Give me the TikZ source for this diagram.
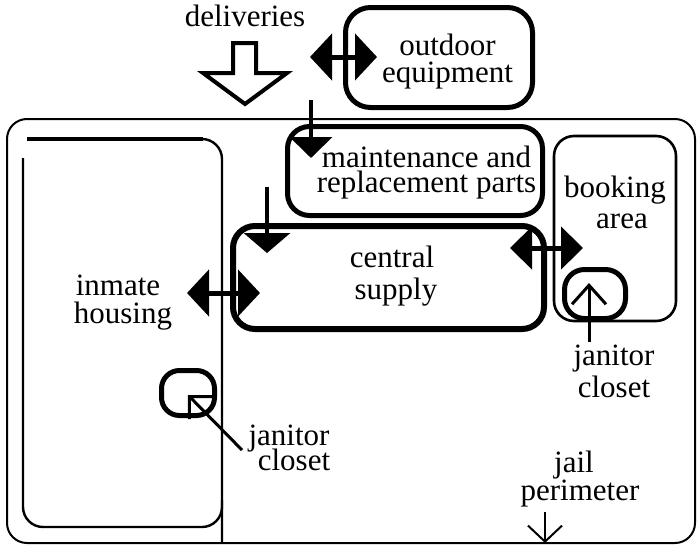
\documentclass[tikz,border=0pt]{standalone}
\usepackage{fontspec}
\setmainfont{Liberation Serif}
\usetikzlibrary{arrows.meta}
\newcommand\twolines[4]{\vtop{\baselineskip=#1\lineskiplimit=-\maxdimen\halign{\hfil##\hfil\cr #2\cr\kern#3 #4\cr}}}
\tikzset{
  lbl/.style={anchor=base, inner sep=0pt, font=\fontsize{15.5}{15.5}\selectfont},
  thickbox/.style={line width=2.5pt, rounded corners=11pt},
  thinbox/.style={line width=1.2pt, rounded corners=10pt},
  dblarrow/.style={line width=2.5pt, {Triangle[length=11pt,width=23pt]}-{Triangle[length=11pt,width=23pt]}},
  downarrow/.style={line width=2pt, -{Triangle[length=10.5pt,width=21pt]}},
  openarrow/.style={line width=1.5pt, -{Straight Barb[length=8pt,width=16pt]}},
}
\begin{document}
\begin{tikzpicture}[x=0.5pt,y=-0.5pt]
\useasboundingbox (0,0) rectangle (700,546);
% perimeter
\draw[line width=1pt, rounded corners=10pt] (7,119) rectangle (695,543);
% inmate housing
\draw[line width=2pt] (27,139) -- (203,139);
\draw[line width=1.2pt, rounded corners=10pt] (200,139) -- (222,139) -- (222,543);
\draw[line width=1.2pt, rounded corners=10pt] (23,158) -- (23,527) -- (222,527) -- (222,500);
% boxes
\draw[thickbox, rounded corners=12.5pt] (345.5,7.5) rectangle (532.5,107.5);
\draw[thickbox] (287.5,126.5) rectangle (542.5,215.5);
\draw[thickbox, line width=3pt] (233,226) rectangle (544,329);
\draw[thinbox, line width=1.3pt] (554,136) rectangle (676,321);
\draw[thickbox, rounded corners=10pt] (564.5,269.5) rectangle (625.5,318.5);
\draw[thickbox, rounded corners=9pt] (161.5,370.5) rectangle (214.5,415.5);
% deliveries hollow arrow
\draw[line width=2pt, line join=miter] (233,43) -- (256,43) -- (256,73) -- (287,73) -- (245,104) -- (203,73) -- (233,73) -- cycle;
% coordinates for connectors
\coordinate (oeL) at (310,57);
\coordinate (oeR) at (377,57);
\coordinate (mpT) at (311,100);
\coordinate (mpB) at (311,158);
\coordinate (csT) at (267,187);
\coordinate (csB) at (267,253);
\coordinate (ihL) at (187,293);
\coordinate (ihR) at (260,293);
\coordinate (baL) at (510,248);
\coordinate (baR) at (583,248);
\coordinate (jc1S) at (242,450);
\coordinate (jc1T) at (188,395);
\coordinate (jc2S) at (589,342);
\coordinate (jc2T) at (589,283);
\coordinate (jpS) at (545,512);
\coordinate (jpT) at (545,543);
% arrows
\draw[dblarrow] (oeL) -- (oeR);
\draw[downarrow] (mpT) -- (mpB);
\draw[downarrow, -{Triangle[length=10pt,width=23pt]}] (csT) -- (csB);
\draw[dblarrow] (ihL) -- (ihR);
\draw[dblarrow, {Triangle[length=11pt,width=21pt]}-{Triangle[length=11pt,width=21pt]}] (baL) -- (baR);
\draw[openarrow] (jc1S) -- (jc1T);
\draw[openarrow, -{Straight Barb[length=9.5pt,width=17pt]}] (jc2S) -- (jc2T);
\draw[openarrow, line width=1pt, -{Straight Barb[length=8pt,width=17pt]}] (jpS) -- (jpT);
% labels
\node[lbl] (deliv) at (245,26) {deliveries};
\node[lbl] (oe) at (447.5,55) {\twolines{13.5pt}{outdoor}{0pt}{equipment}};
\node[lbl] (mp) at (426.5,167) {\twolines{12.5pt}{maintenance and}{0pt}{replacement parts}};
\node[lbl] (cs) at (392,267) {\twolines{16pt}{central}{4pt}{supply}};
\node[lbl] (ba) at (615,197) {\twolines{15.5pt}{booking}{7pt}{area}};
\node[lbl] (ih) at (118,295) {\twolines{14pt}{inmate}{5pt}{housing}};
\node[lbl] (jl) at (289,445) {\twolines{12.5pt}{janitor}{5pt}{closet}};
\node[lbl] (jr) at (614,365) {\twolines{16pt}{janitor}{0pt}{closet}};
\node[lbl] (jp) at (574,472) {\twolines{14pt}{jail}{6pt}{perimeter}};
\end{tikzpicture}
\end{document}
